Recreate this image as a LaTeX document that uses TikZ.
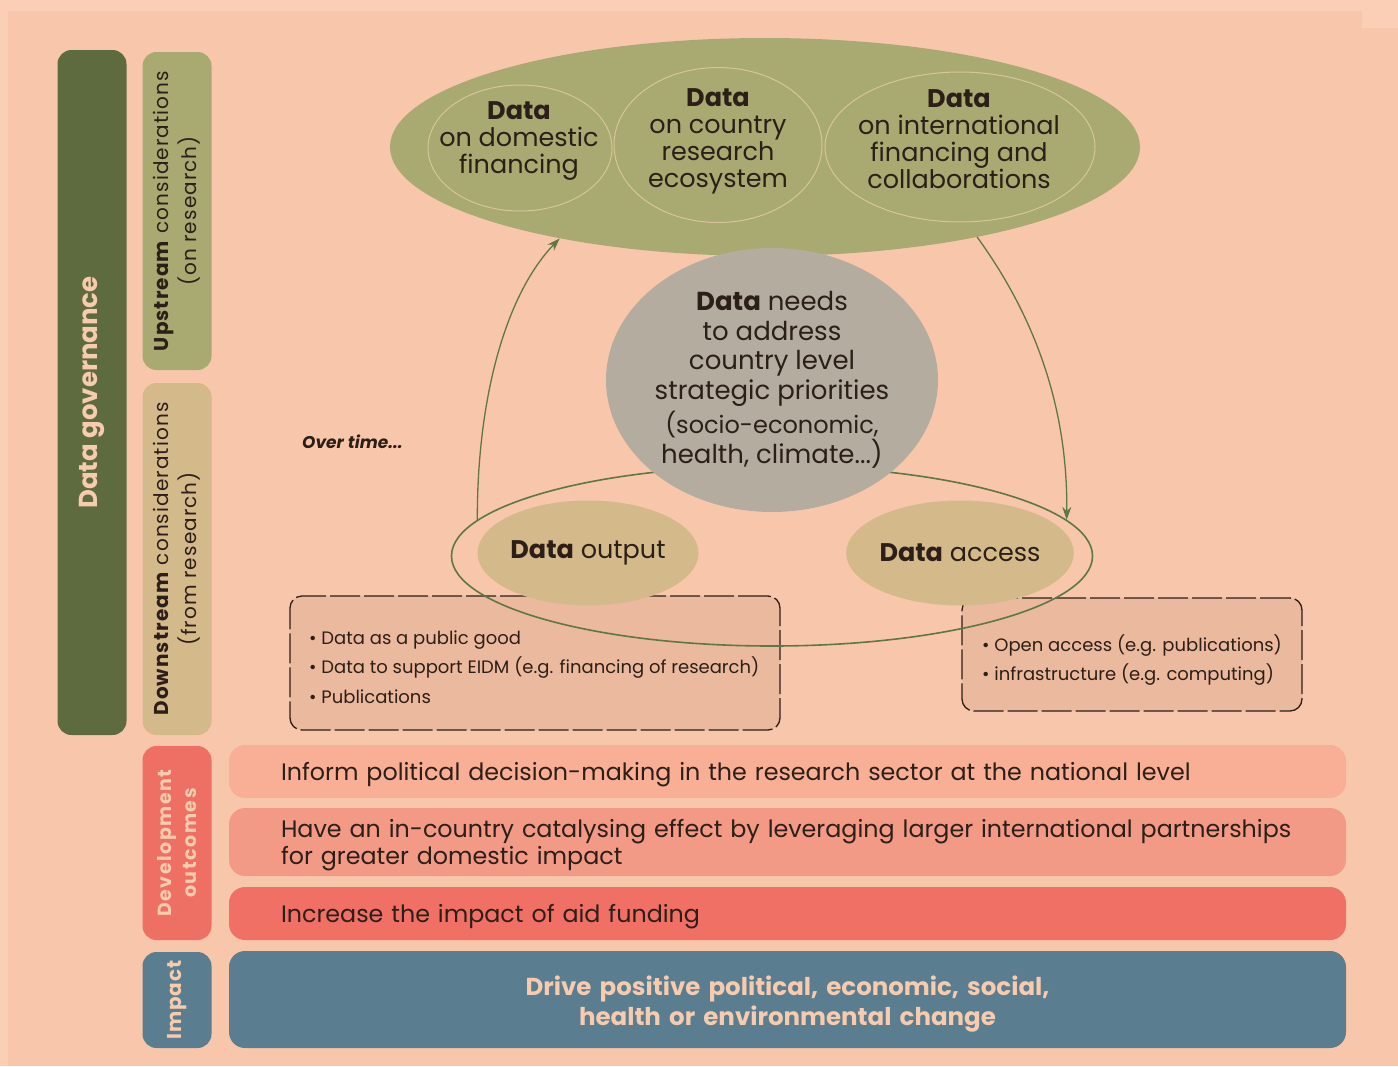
\documentclass[tikz,border=0pt]{standalone}
\usepackage{fontspec}
\setmainfont{Poppins}
\usetikzlibrary{shapes.geometric,arrows.meta}

\definecolor{bgpeach}{HTML}{F8C7AB}
\definecolor{bglight}{HTML}{FACFB6}
\definecolor{govgreen}{HTML}{5E6B3E}
\definecolor{olive}{HTML}{A9A972}
\definecolor{tan}{HTML}{D4B98A}
\definecolor{devred}{HTML}{EE7064}
\definecolor{impblue}{HTML}{5A7D90}
\definecolor{rowone}{HTML}{F8AF96}
\definecolor{rowtwo}{HTML}{F29A86}
\definecolor{rowthree}{HTML}{F07066}
\definecolor{greyblob}{HTML}{B4AC9E}
\definecolor{boxfill}{HTML}{EBB99E}
\definecolor{inktext}{HTML}{2C1F18}
\definecolor{lighttext}{HTML}{F6CBAE}
\definecolor{arrowgreen}{HTML}{5E7746}
\definecolor{rimtan}{HTML}{D8C59C}

\begin{document}
\begin{tikzpicture}[x=1pt,y=-1pt,
  sidebar/.style={rounded corners=14pt, inner sep=0pt, rotate=90, align=center,
    minimum height=69pt},
  rowbar/.style={rounded corners=16pt, inner ysep=0pt, inner xsep=52pt,
    text width=1013pt, align=left, text=inktext,
    font=\fontsize{23.8}{27}\selectfont},
  subcircle/.style={ellipse, draw=rimtan, line width=1pt, inner sep=0pt},
  circletext/.style={align=center, text=inktext, inner sep=0pt,
    font=\fontsize{25.5}{27}\selectfont},
  dashbox/.style={draw=inktext, fill=boxfill, line width=1.3pt,
    dash pattern=on 30pt off 4pt, rounded corners=12pt},
  bullets/.style={align=left, text=inktext, inner sep=0pt,
    font=\fontsize{18}{29.5}\selectfont},
  loop/.style={draw=arrowgreen, line width=1.3pt,
    -{Stealth[length=13pt,width=9pt]}}]

\useasboundingbox (0,0) rectangle (1398,1066);

% background
\fill[bglight] (0,0) rectangle (1398,1066);
\fill[bgpeach] (8,11) rectangle (1398,1066);
\fill[bglight] (1362,0) rectangle (1398,28);

% side bars
\node[sidebar, fill=govgreen, minimum width=685pt, text=lighttext,
  font=\bfseries\fontsize{26}{28}\selectfont] (gov) at (92,392.5) {Data governance};
\node[sidebar, fill=olive, minimum width=318pt, text=inktext,
  font=\fontsize{20}{28}\selectfont\addfontfeatures{LetterSpace=5.5}] (up) at (177,211)
  {\textbf{Upstream} considerations\\(on research)};
\node[sidebar, fill=tan, minimum width=352pt, text=inktext,
  font=\fontsize{20}{28}\selectfont\addfontfeatures{LetterSpace=5.5}] (down) at (177,559)
  {\textbf{Downstream} considerations\\(from research)};
\node[sidebar, fill=devred, minimum width=194pt, text=lighttext,
  font=\bfseries\fontsize{19}{25}\selectfont\addfontfeatures{LetterSpace=8}] (dev)
  at (177,843) {Development\\outcomes};
\node[sidebar, fill=impblue, minimum width=96pt, text=lighttext,
  font=\bfseries\fontsize{20}{25}\selectfont\addfontfeatures{LetterSpace=5}] (imp)
  at (177,1000) {Impact};

% outcome rows
\node[rowbar, fill=rowone, minimum height=53pt, text depth=0pt] (inform) at (787.5,771.5)
  {Inform political decision-making in the research sector at the national level};
\node[rowbar, fill=rowtwo, minimum height=68pt, text depth=28pt] (catalyse) at (787.5,842)
  {Have an in-country catalysing effect by leveraging larger international partnerships\\for greater domestic impact};
\node[rowbar, fill=rowthree, minimum height=53pt, text depth=0pt] (aid) at (787.5,913.5)
  {Increase the impact of aid funding};
\node[rowbar, fill=impblue, minimum height=97pt, align=center, text=lighttext,
  text depth=28pt, font=\bfseries\fontsize{24.5}{30}\selectfont] (drive) at (787.5,999.5)
  {Drive positive political, economic, social,\\health or environmental change};

% dashed boxes
\node[dashbox, minimum width=490pt, minimum height=134pt] (outbox) at (535,663) {};
\node[dashbox, minimum width=340pt, minimum height=113pt] (accbox) at (1132,654.5) {};
\node[bullets, anchor=west] (outlist) at (309,667)
  {\textbullet\ Data as a public good\\
   \textbullet\ Data to support EIDM (e.g. financing of research)\\
   \textbullet\ Publications};
\node[bullets, anchor=west] (acclist) at (982,660)
  {\textbullet\ Open access (e.g. publications)\\
   \textbullet\ infrastructure (e.g. computing)};

% ring round output and access
\node[ellipse, draw=arrowgreen, line width=1.6pt, minimum width=641pt,
  minimum height=180pt, inner sep=0pt] (ring) at (772,556) {};
\node[ellipse, fill=tan, minimum width=221pt, minimum height=105pt, inner sep=0pt,
  text=inktext, font=\fontsize{25.5}{27}\selectfont] (output) at (588,553)
  {\textbf{Data} output};
\node[ellipse, fill=tan, minimum width=221pt, minimum height=105pt, inner sep=0pt,
  text=inktext, font=\fontsize{25.5}{27}\selectfont] (access) at (960,553)
  {\textbf{Data} access};

% upstream data
\node[ellipse, fill=olive, minimum width=750pt, minimum height=218pt, inner sep=0pt]
  (upstream) at (765,147) {};
\node[subcircle, minimum width=184pt, minimum height=126pt] (domestic) at (520,148) {};
\node[subcircle, minimum width=208pt, minimum height=155pt] (ecosys) at (718,145) {};
\node[subcircle, minimum width=270pt, minimum height=150pt] (intl) at (960,147) {};
\node[circletext] (domtxt) at (519,141) {\textbf{Data}\\on domestic\\financing};
\node[circletext] (ecotxt) at (718,141.5) {\textbf{Data}\\on country\\research\\ecosystem};
\node[circletext] (intltxt) at (959,139.5)
  {\textbf{Data}\\on international\\financing and\\collaborations};

% country priorities
\node[ellipse, fill=greyblob, minimum width=332pt, minimum height=264pt, inner sep=0pt,
  align=center, text=inktext, font=\fontsize{26}{29.5}\selectfont] (needs) at (772,380)
  {\textbf{Data} needs\\to address\\country level\\strategic priorities\\[5pt]
   \fontsize{24}{27}\selectfont (socio-economic,\\health, climate...)};

\node[text=inktext, font=\bfseries\itshape\fontsize{17}{18}\selectfont, anchor=west,
  inner sep=0pt] (overtime) at (302,442) {Over time...};

% loop arrows
\draw[loop] (ring.173) .. controls (477,400) and (505,295) .. (upstream.204);
\draw[loop] (upstream.337) .. controls (1030,310) and (1068,400) .. (ring.7);

\end{tikzpicture}
\end{document}
